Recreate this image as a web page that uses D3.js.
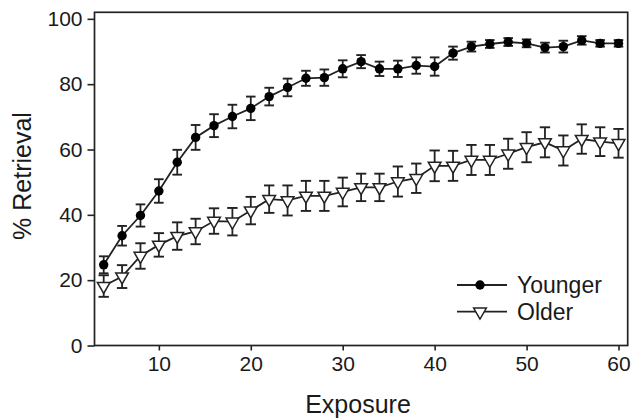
<!DOCTYPE html>
<html><head><meta charset="utf-8">
<script src="https://cdn.jsdelivr.net/npm/d3@7"></script>
<style>body{margin:0;background:#fff}svg{display:block}text{font-family:"Liberation Sans",Arial,sans-serif;fill:#1a1a1a}</style>
</head><body><svg id="c" width="631" height="420"></svg>
<script>
const exposure = [4,6,8,10,12,14,16,18,20,22,24,26,28,30,32,34,36,38,40,42,44,46,48,50,52,54,56,58,60];
const younger = [24.7,33.6,39.8,47.3,56.1,63.7,67.3,70.1,72.6,76.2,79.0,81.8,82.0,84.7,86.9,84.7,84.7,85.7,85.4,89.5,91.5,92.3,92.9,92.5,91.2,91.5,93.4,92.5,92.5];
const youngerErr = [2.6,3.0,3.4,3.6,3.8,3.8,3.5,3.6,3.6,2.7,2.7,2.3,2.5,2.6,2.0,2.2,2.5,2.5,2.8,2.0,1.5,1.2,1.2,1.2,1.5,1.8,1.3,1.0,1.0];
const older = [18.2,21.1,27.4,30.8,33.5,34.9,38.1,37.9,41.3,44.8,44.4,45.8,45.8,47.0,48.4,48.4,50.2,51.2,55.0,55.0,56.8,56.8,58.7,60.7,62.2,59.7,63.2,62.4,61.9];
const olderErr = [3.3,3.5,3.9,3.6,4.2,3.9,3.9,4.2,4.2,4.2,4.6,4.6,4.6,4.4,4.2,4.2,4.6,4.5,4.7,4.6,4.6,4.6,4.6,4.6,4.6,4.6,4.5,4.4,4.4];
const xTicks = [10,20,30,40,50,60];
const yTicks = [0,20,40,60,80,100];
const seriesNames = ["Younger","Older"];

const svg = d3.select("#c");
const L = 94.5, T = 12.3, R = 627.7, B = 345.5;
const x = d3.scaleLinear().domain([3,61]).range([L,R]);
const y = d3.scaleLinear().domain([0,102]).range([B,T]);
const ink = "#222";

// axes
const ya = svg.append("g").attr("transform",`translate(${L},0)`)
  .call(d3.axisLeft(y).tickValues(yTicks).tickSize(7).tickPadding(5));
const xa = svg.append("g").attr("transform",`translate(0,${B})`)
  .call(d3.axisBottom(x).tickValues(xTicks).tickSize(5).tickPadding(6));
[ya,xa].forEach(g=>{
  g.select(".domain").remove();
  g.selectAll(".tick line").attr("stroke",ink).attr("stroke-width",1.6);
  g.selectAll(".tick text").attr("font-size",21).attr("fill","#1a1a1a")
   .style("font-family","'Liberation Sans',Arial,sans-serif");
});
// frame
svg.append("rect").attr("x",L).attr("y",T).attr("width",R-L).attr("height",B-T)
  .attr("fill","none").attr("stroke",ink).attr("stroke-width",1.7);

const series = [
  {name:seriesNames[0], v:younger, e:youngerErr, type:"circle"},
  {name:seriesNames[1], v:older, e:olderErr, type:"tri"}
];
const line = d3.line().x((d,i)=>x(exposure[i])).y(d=>y(d));
const triPath = d3.symbol().type(d3.symbolTriangle).size(70);

series.slice().reverse().forEach(s=>{
  const g = svg.append("g");
  g.append("path").datum(s.v).attr("d",line).attr("fill","none").attr("stroke",ink).attr("stroke-width",1.8);
  const eb = g.selectAll(".eb").data(s.v).join("g");
  const cw = s.type==="circle"?4.8:5.2;
  eb.append("line").attr("x1",(d,i)=>x(exposure[i])).attr("x2",(d,i)=>x(exposure[i]))
    .attr("y1",(d,i)=>y(d+s.e[i])).attr("y2",(d,i)=>y(d-s.e[i])).attr("stroke",ink).attr("stroke-width",1.8);
  [1,-1].forEach(sg=>{
    eb.append("line").attr("x1",(d,i)=>x(exposure[i])-cw).attr("x2",(d,i)=>x(exposure[i])+cw)
      .attr("y1",(d,i)=>y(d+sg*s.e[i])).attr("y2",(d,i)=>y(d+sg*s.e[i])).attr("stroke",ink).attr("stroke-width",1.9);
  });
  if(s.type==="circle"){
    g.selectAll(".m").data(s.v).join("circle").attr("cx",(d,i)=>x(exposure[i])).attr("cy",d=>y(d))
      .attr("r",4.7).attr("fill","#000");
  } else {
    g.selectAll(".m").data(s.v).join("path").attr("d",triPath)
      .attr("transform",(d,i)=>`translate(${x(exposure[i])},${y(d)}) rotate(180)`)
      .attr("fill","#fff").attr("stroke",ink).attr("stroke-width",1.5);
  }
});

// legend
const lg = svg.append("g");
series.forEach((s,k)=>{
  const ly = 285 + k*26.7;
  lg.append("line").attr("x1",457).attr("x2",507).attr("y1",ly).attr("y2",ly).attr("stroke",ink).attr("stroke-width",1.8);
  if(s.type==="circle") lg.append("circle").attr("cx",480).attr("cy",ly).attr("r",4.7).attr("fill","#000");
  else lg.append("path").attr("d",triPath).attr("transform",`translate(480,${ly}) rotate(180)`).attr("fill","#fff").attr("stroke",ink).attr("stroke-width",1.5);
  lg.append("text").attr("x",517).attr("y",ly+8).attr("font-size",23).text(s.name);
});

// axis titles
svg.append("text").attr("x",358).attr("y",413).attr("text-anchor","middle").attr("font-size",25).text("Exposure");
svg.append("text").attr("transform","translate(31,176) rotate(-90)").attr("text-anchor","middle").attr("font-size",25).text("% Retrieval");
</script></body></html>
